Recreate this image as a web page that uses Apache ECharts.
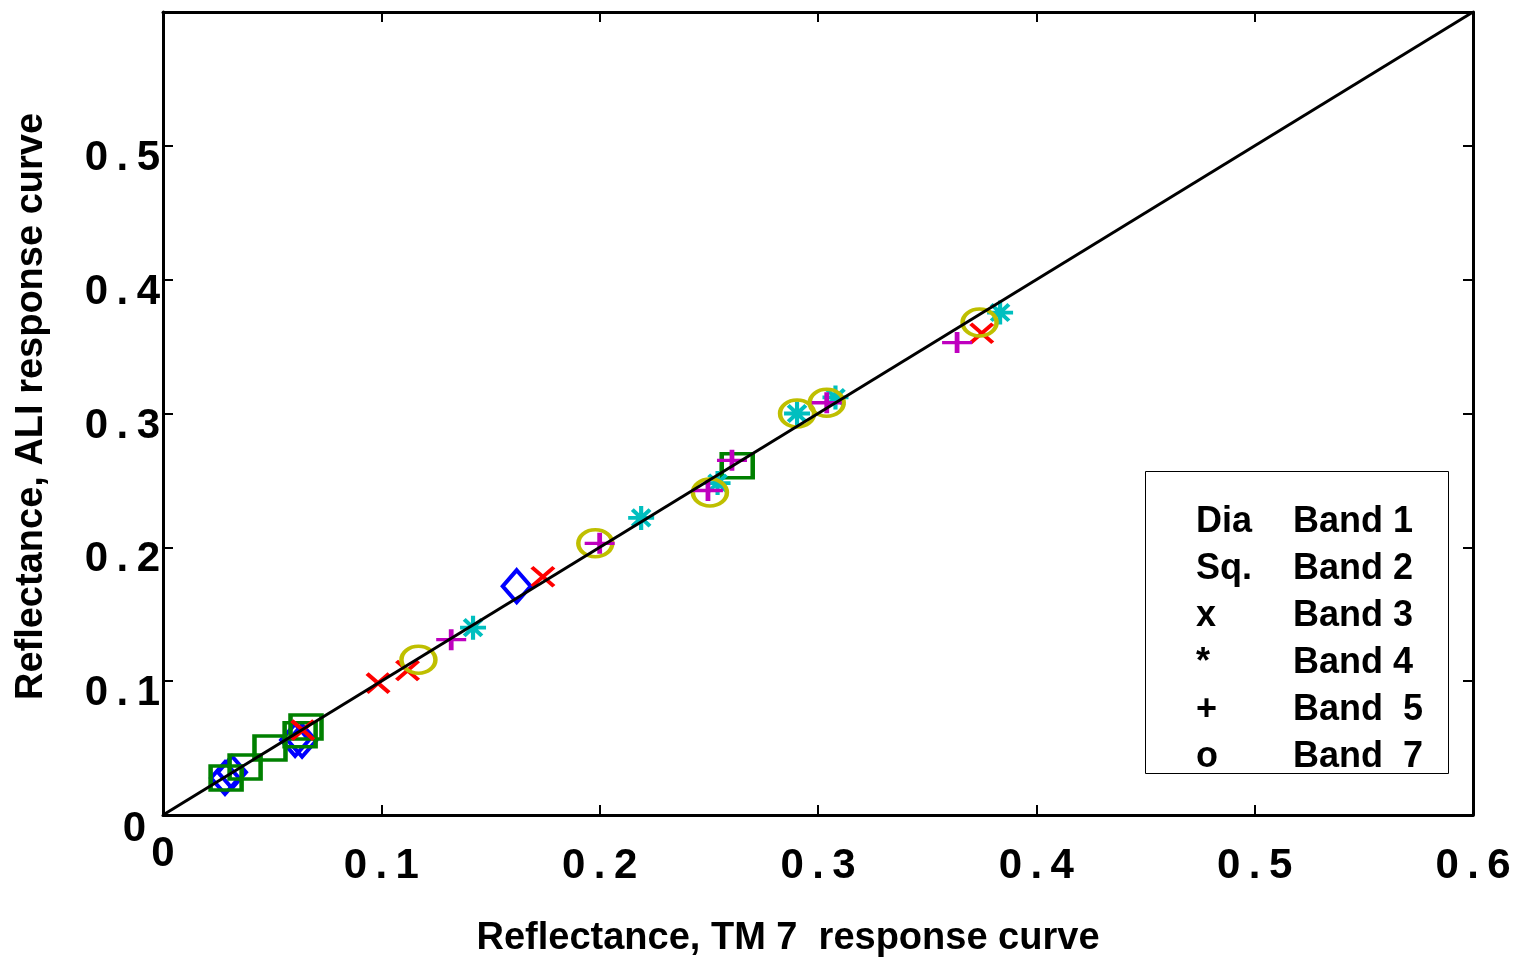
<!DOCTYPE html>
<html><head><meta charset="utf-8">
<script src="https://cdn.jsdelivr.net/npm/echarts@6/dist/echarts.min.js"></script>
<style>html,body{margin:0;padding:0;background:#fff}#c{width:1526px;height:964px}</style>
</head><body><div id="c"></div>
<script>
// Data (TM reflectance, ALI reflectance)
const band1 = [[0.0284,0.0276],[0.0316,0.032],[0.0605,0.056],[0.0637,0.0555],[0.162,0.171]];
const band2 = [[0.0289,0.0276],[0.0376,0.0358],[0.049,0.050],[0.0628,0.060],[0.0655,0.0657],[0.263,0.261]];
const band3 = [[0.064,0.0634],[0.0985,0.0985],[0.112,0.108],[0.174,0.178],[0.375,0.360]];
const band4 = [[0.142,0.140],[0.219,0.222],[0.254,0.248],[0.2904,0.300],[0.308,0.312],[0.3834,0.3754]];
const band5 = [[0.132,0.131],[0.200,0.203],[0.2496,0.2425],[0.2606,0.265],[0.304,0.308],[0.3637,0.353]];
const band7 = [[0.117,0.116],[0.198,0.203],[0.2505,0.241],[0.2904,0.300],[0.304,0.308],[0.374,0.368]];
const oneToOne = [[0,0],[0.6,0.6]];
const legendCodes = ['Dia','Sq.','x','*','+','o'];
const legendNames = ['Band 1','Band 2','Band 3','Band 4','Band  5','Band  7'];
const xTitle = 'Reflectance, TM 7  response curve';
const yTitle = 'Reflectance, ALI response curve';

const FONT = '"Liberation Sans", Arial, sans-serif';
const fmt = v => (Math.abs(v) < 1e-9 ? '0' : (+v).toFixed(1).split('').join('\u2009'));

const chart = echarts.init(document.getElementById('c'), null, {renderer:'canvas'});
const axisCommon = {
  type:'value', min:0, max:0.6, interval:0.1,
  splitLine:{show:false},
  axisLine:{show:true, onZero:false, lineStyle:{color:'#000', width:3}},
  axisTick:{show:true, inside:true, length:10, lineStyle:{color:'#000', width:2}}
};
const strokeItem = c => ({color:'transparent', borderColor:c, borderWidth:4, opacity:1});
const lineItem = c => ({color:c, borderColor:c, borderWidth:4, opacity:1});
const X_PATH = 'path://M0 0L10 10M10 0L0 10';
const PLUS_PATH = 'path://M5 0L5 10M0 5L10 5';
const STAR_PATH = 'path://M5 0L5 10M0 5L10 5M1.6 1.6L8.4 8.4M8.4 1.6L1.6 8.4';
const LBL = {fontFamily:FONT, fontWeight:'bold', fontSize:42, color:'#000'};

const legendGraphics = [{
  type:'rect', left:1145, top:471, shape:{width:303, height:302},
  style:{fill:'#fff', stroke:'#000', lineWidth:1}, z:100
}];
legendCodes.forEach((c,i)=>{
  legendGraphics.push({type:'text', left:1196, top:504+i*47, z:101,
    style:{text:c, font:'bold 36px '+FONT, fill:'#000'}});
  legendGraphics.push({type:'text', left:1293, top:504+i*47, z:101,
    style:{text:legendNames[i], font:'bold 36px '+FONT, fill:'#000'}});
});

chart.setOption({
  backgroundColor:'#fff',
  animation:false,
  grid:{left:163, top:12, width:1310, height:803, containLabel:false},
  xAxis:[
    Object.assign({}, axisCommon, {
      position:'bottom',
      name:xTitle, nameLocation:'middle', nameGap:105,
      nameTextStyle:{fontFamily:FONT, fontWeight:'bold', fontSize:38, color:'#000', padding:[0,60,0,0]},
      axisLabel:Object.assign({margin:18, formatter:v => (Math.abs(v)<1e-9 ? '{z|0}' : '{a|'+fmt(v)+'}'),
        rich:{a:Object.assign({padding:[12,0,0,0]}, LBL), z:Object.assign({padding:[0,0,0,0]}, LBL)}}, LBL)
    }),
    Object.assign({}, axisCommon, {position:'top', axisLabel:{show:false}})
  ],
  yAxis:[
    Object.assign({}, axisCommon, {
      position:'left',
      name:yTitle, nameLocation:'middle', nameGap:112,
      nameTextStyle:{fontFamily:FONT, fontWeight:'bold', fontSize:38, color:'#000', padding:[0,0,0,14]},
      axisLabel:Object.assign({margin:3, showMaxLabel:false,
        formatter:v => (Math.abs(v)<1e-9 ? '{z|0}' : '{a|'+fmt(v)+'}'),
        rich:{a:Object.assign({padding:[25,0,0,0]}, LBL), z:Object.assign({padding:[28,14,0,0]}, LBL)}}, LBL)
    }),
    Object.assign({}, axisCommon, {position:'right', axisLabel:{show:false}})
  ],
  series:[
    {type:'scatter', name:'Band 1', data:band1, symbol:'diamond', symbolSize:[28,32], itemStyle:strokeItem('#0000ff'), z:2},
    {type:'scatter', name:'Band 2', data:band2, symbol:'rect', symbolSize:[31,24], itemStyle:strokeItem('#008000'), z:3},
    {type:'scatter', name:'Band 3', data:band3, symbol:X_PATH, symbolSize:[22,19], itemStyle:lineItem('#ff0000'), z:4},
    {type:'scatter', name:'Band 4', data:band4, symbol:STAR_PATH, symbolSize:[26,24], itemStyle:lineItem('#00bfbf'), z:5},
    {type:'scatter', name:'Band 7', data:band7, symbol:'circle', symbolSize:[34,27], itemStyle:strokeItem('#bfbf00'), z:6},
    {type:'scatter', name:'Band 5', data:band5, symbol:PLUS_PATH, symbolSize:[30,21], itemStyle:lineItem('#bf00bf'), z:7},
    {type:'line', data:oneToOne, symbol:'none', lineStyle:{color:'#000', width:3}, z:10, silent:true}
  ],
  graphic:legendGraphics
});
</script></body></html>
